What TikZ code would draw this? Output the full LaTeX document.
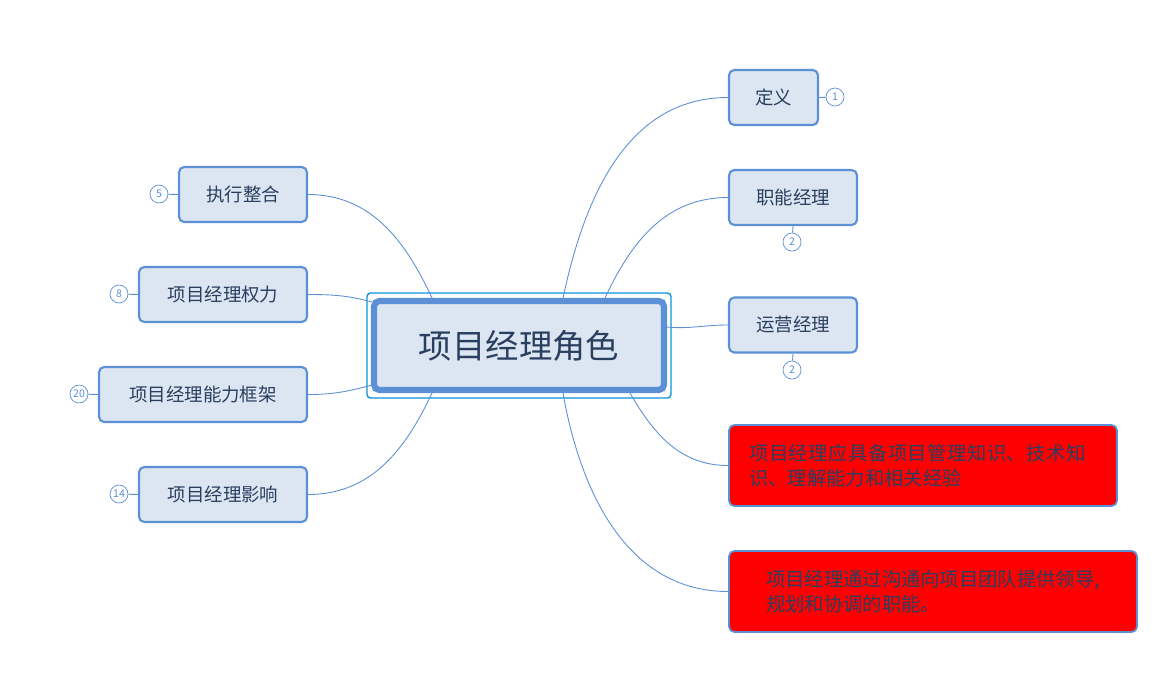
\documentclass[tikz,border=0pt]{standalone}
\usepackage{fontspec}
\newfontfamily\cjk{Noto Sans CJK SC}
\XeTeXlinebreaklocale "zh"
\XeTeXlinebreakskip = 0pt plus 1pt
\definecolor{nodefill}{HTML}{DCE6F2}
\definecolor{nodeline}{HTML}{5B8FD6}
\definecolor{textcol}{HTML}{2A3F5F}
\begin{document}
\begin{tikzpicture}[x=0.02cm, y=-0.02cm,
	topic/.style={draw=nodeline, line width=1.2pt, fill=nodefill, rounded corners=3pt, text=textcol, font=\cjk\fontsize{10.5}{12}\selectfont, inner sep=0pt},
	note/.style={draw=nodeline, line width=1pt, fill=red, rounded corners=3pt, text=textcol, font=\cjk\fontsize{11}{14.5}\selectfont, align=left, inner sep=0pt},
	badge/.style={circle, draw=nodeline, text=nodeline, font=\cjk\fontsize{6}{6}\selectfont, inner sep=0pt, minimum size=0.36cm},
	link/.style={draw=nodeline, line width=0.5pt}]
	\path[use as bounding box] (0,0) rectangle (1175,684);
	
	% centre
	\draw[draw=cyan!80!blue, line width=0.8pt, rounded corners=2pt] (367,293) rectangle (671,398);
	\node[topic, line width=3.5pt, minimum width=5.8cm, minimum height=1.78cm, font=\cjk\fontsize{19}{22}\selectfont] (root) at (519,345.5) {项目经理角色};
	\coordinate (r1) at (563,298);
	\coordinate (r2) at (605,298);
	\coordinate (r3) at (666,327);
	\coordinate (r4) at (630,393);
	\coordinate (r5) at (563,393);
	\coordinate (l1) at (432,298);
	\coordinate (l2) at (372,302);
	\coordinate (l3) at (372,385);
	\coordinate (l4) at (432,393);
	
	% right side
	\node[topic, minimum width=1.78cm, minimum height=1.1cm] (def) at (773.5,97.5) {定义};
	\node[topic, minimum width=2.56cm, minimum height=1.1cm] (func) at (793,197.5) {职能经理};
	\node[topic, minimum width=2.56cm, minimum height=1.1cm] (ops) at (793,325) {运营经理};
	\node[note, minimum width=7.76cm, minimum height=1.62cm, text width=6.95cm] (know) at (923,465.5) {项目经理应具备项目管理知识、技术知识、理解能力和相关经验};
	\node[note, minimum width=8.16cm, minimum height=1.62cm] (lead) at (933,591.5) {项目经理通过沟通向项目团队提供领导,\\规划和协调的职能。};
	
	% left side
	\node[topic, minimum width=2.56cm, minimum height=1.1cm] (exec) at (243,194.5) {执行整合};
	\node[topic, minimum width=3.36cm, minimum height=1.1cm] (power) at (223,294.5) {项目经理权力};
	\node[topic, minimum width=4.16cm, minimum height=1.1cm] (frame) at (203,394.5) {项目经理能力框架};
	\node[topic, minimum width=3.36cm, minimum height=1.1cm] (infl) at (223,494.5) {项目经理影响};
	
	% badges
	\node[badge] (b1) at (835,97) {1};
	\node[badge] (b2) at (792,242) {2};
	\node[badge] (b3) at (792,370) {2};
	\node[badge] (b5) at (159,194) {5};
	\node[badge] (b8) at (119,294) {8};
	\node[badge] (b20) at (79,394) {20};
	\node[badge] (b14) at (119,494) {14};
	\draw[link] (def.east) -- (b1);
	\draw[link] (func.south) -- (b2);
	\draw[link] (ops.south) -- (b3);
	\draw[link] (exec.west) -- (b5);
	\draw[link] (power.west) -- (b8);
	\draw[link] (frame.west) -- (b20);
	\draw[link] (infl.west) -- (b14);
	
	% branches
	\draw[link] (r1) to[out=78, in=180] (def.west);
	\draw[link] (r2) to[out=65, in=180] (func.west);
	\draw[link] (r3) to[out=-5, in=180] (ops.west);
	\draw[link] (r4) to[out=-60, in=180] (know.west);
	\draw[link] (r5) to[out=-80, in=180] (lead.west);
	\draw[link] (l1) to[out=115, in=0] (exec.east);
	\draw[link] (l2) to[out=165, in=0] (power.east);
	\draw[link] (l3) to[out=195, in=0] (frame.east);
	\draw[link] (l4) to[out=-115, in=0] (infl.east);
\end{tikzpicture}
\end{document}
